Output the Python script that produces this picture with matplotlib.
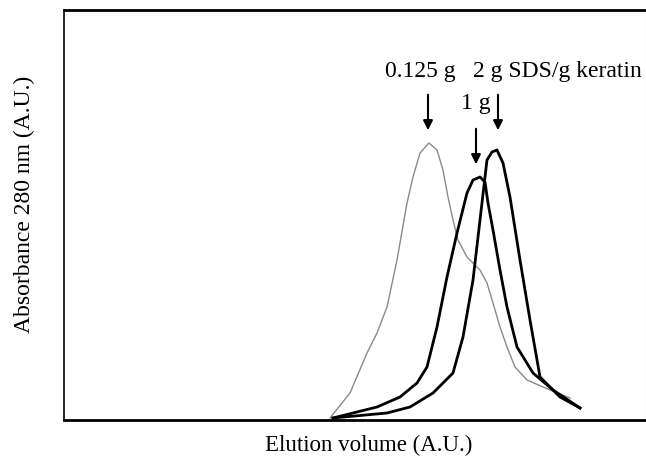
import numpy as np
import matplotlib
matplotlib.use("Agg")
import matplotlib.pyplot as plt

plt.rcParams['font.family'] = ['Liberation Serif', 'DejaVu Serif']

# elution profiles (A.U.)
x_0125 = [266, 286, 303, 313, 323, 333, 343, 349, 356, 365, 373, 379, 384, 389, 394,
          403, 416, 423, 429, 436, 443, 451, 463, 479, 506]
y_0125 = [2, 27, 67, 87, 113, 160, 217, 243, 267, 277, 270, 250, 223, 200, 180,
          163, 150, 137, 117, 93, 73, 53, 40, 33, 22]

x_1g = [269, 313, 336, 353, 363, 373, 383, 393, 403, 409, 416, 421, 424, 429, 436,
        443, 453, 469, 489, 516]
y_1g = [2, 13, 23, 37, 53, 93, 143, 187, 227, 240, 243, 238, 217, 190, 150,
        113, 73, 47, 30, 12]

x_2g = [269, 323, 346, 369, 389, 399, 409, 416, 423, 428, 433, 439, 446, 456, 466,
        476, 496, 516]
y_2g = [2, 7, 13, 27, 47, 83, 140, 200, 260, 268, 270, 257, 223, 160, 100,
        43, 23, 12]

fig = plt.figure(figsize=(6.46, 4.66), dpi=100)
ax = fig.add_axes([64/646, 46/466, 582/646, 410/466])

ax.plot(x_0125, y_0125, color='#8a8a8a', lw=1.0)
ax.plot(x_1g, y_1g, color='black', lw=2.0)
ax.plot(x_2g, y_2g, color='black', lw=2.0)

ax.set_xlim(0, 582)
ax.set_ylim(0, 410)
ax.set_xticks([])
ax.set_yticks([])

ax.spines['top'].set_linewidth(2)
ax.spines['bottom'].set_linewidth(2)
ax.spines['left'].set_linewidth(1.2)
ax.spines['right'].set_linewidth(0.8)
ax.spines['right'].set_color('#bbbbbb')

arr = dict(arrowstyle='-|>', color='black', lw=1.5, mutation_scale=14)
ax.annotate('', xy=(364, 287), xytext=(364, 328), arrowprops=arr)
ax.annotate('', xy=(434, 287), xytext=(434, 328), arrowprops=arr)
ax.annotate('', xy=(412, 253), xytext=(412, 294), arrowprops=arr)

ax.text(356, 348, '0.125 g', fontsize=17, ha='center', va='center')
ax.text(409, 348, '2 g SDS/g keratin', fontsize=17, ha='left', va='center')
ax.text(412, 317, '1 g', fontsize=17, ha='center', va='center')

fig.text(24/646, 1 - 204/466, 'Absorbance 280 nm (A.U.)', fontsize=17,
         rotation=90, ha='center', va='center')
fig.text(369/646, 1 - 445/466, 'Elution volume (A.U.)', fontsize=16.5,
         ha='center', va='center')

fig.savefig('out.png', dpi=100)
